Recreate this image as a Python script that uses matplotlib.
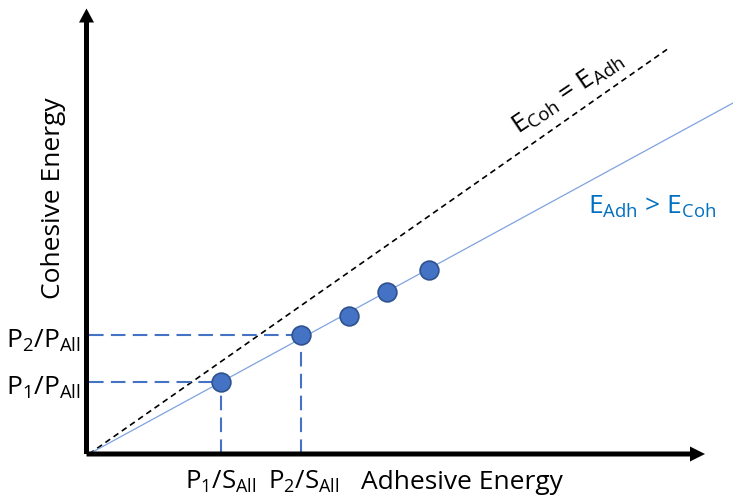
import matplotlib
matplotlib.use("Agg")
import matplotlib.pyplot as plt

plt.rcParams['font.family'] = ['Open Sans', 'DejaVu Sans']
plt.rcParams['mathtext.fontset'] = 'custom'
plt.rcParams['mathtext.rm'] = 'Open Sans'
plt.rcParams['mathtext.it'] = 'Open Sans:italic'

# Measured samples (arbitrary energy units)
adhesive = [1.32, 2.12, 2.60, 2.98, 3.40]
cohesive = [0.72, 1.19, 1.38, 1.62, 1.84]

# Reference lines: slope of the equal-energy line and of the fitted line
equal_slope = 0.70
equal_end = 5.78
fit_slope = 0.545
fit_end = 6.6

# Axis extents
x_axis_end = 6.16
y_axis_end = 4.43

guide_idx = [0, 1]
y_tick_labels = [r'P$_1$/P$_{\mathrm{All}}$', r'P$_2$/P$_{\mathrm{All}}$']
x_tick_labels = [r'P$_1$/S$_{\mathrm{All}}$', r'P$_2$/S$_{\mathrm{All}}$']

blue = '#4472C4'
edge = '#2F528F'
label_blue = '#0070C0'

fig = plt.figure(figsize=(7.33, 4.97), dpi=100)
ax = fig.add_axes([0, 0, 1, 1])
ax.set_xlim(-0.89, 6.44)
ax.set_ylim(-0.43, 4.54)
ax.axis('off')

# Equal-energy diagonal
ax.plot([0, equal_end], [0, equal_slope * equal_end], color='black', lw=1.2,
        linestyle=(0, (3.5, 2.5)), zorder=2)
# Fitted line through the samples
ax.plot([0, fit_end], [0, fit_slope * fit_end], color='#7FA3E0', lw=0.9, zorder=2)

# Dashed guides from the first two samples to both axes
for i in guide_idx:
    ax.plot([0, adhesive[i]], [cohesive[i], cohesive[i]], color=blue, lw=1.5,
            linestyle=(0, (7, 3.5)), zorder=3)
    ax.plot([adhesive[i], adhesive[i]], [0, cohesive[i]], color=blue, lw=1.5,
            linestyle=(0, (7, 3.5)), zorder=3)

ax.plot(adhesive, cohesive, 'o', ms=13.5, mfc=blue, mec=edge, mew=1.2, zorder=5)

# Axes with arrowheads
ax.arrow(-0.025, 0, 0, y_axis_end + 0.025, width=0.05, head_width=0.15,
         head_length=0.14, length_includes_head=True, fc='black', ec='none', zorder=6)
ax.arrow(-0.025, 0, x_axis_end + 0.025, 0, width=0.05, head_width=0.15,
         head_length=0.15, length_includes_head=True, fc='black', ec='none', zorder=6)

fs = 19
for i, lab in zip(guide_idx, y_tick_labels):
    ax.text(-0.08, cohesive[i] - 0.125, lab, ha='right', va='baseline', fontsize=fs)
for k, (i, lab) in enumerate(zip(guide_idx, x_tick_labels)):
    ax.text(adhesive[i] + 0.03 * k, -0.35, lab, ha='center', va='baseline',
            fontsize=18.5)

ax.text(3.73, -0.35, 'Adhesive Energy', ha='center', va='baseline', fontsize=fs)
ax.text(-0.36, 2.56, 'Cohesive Energy', ha='center', va='center', rotation=90,
        fontsize=fs)

ax.text(4.79, 3.61, r'E$_{\mathrm{Coh}}$ = E$_{\mathrm{Adh}}$', ha='center',
        va='center', rotation=34, fontsize=fs, color='black')
ax.text(5.63, 2.47, r'E$_{\mathrm{Adh}}$ > E$_{\mathrm{Coh}}$', ha='center',
        va='center', fontsize=fs, color=label_blue)

fig.savefig('out.png', dpi=100)
